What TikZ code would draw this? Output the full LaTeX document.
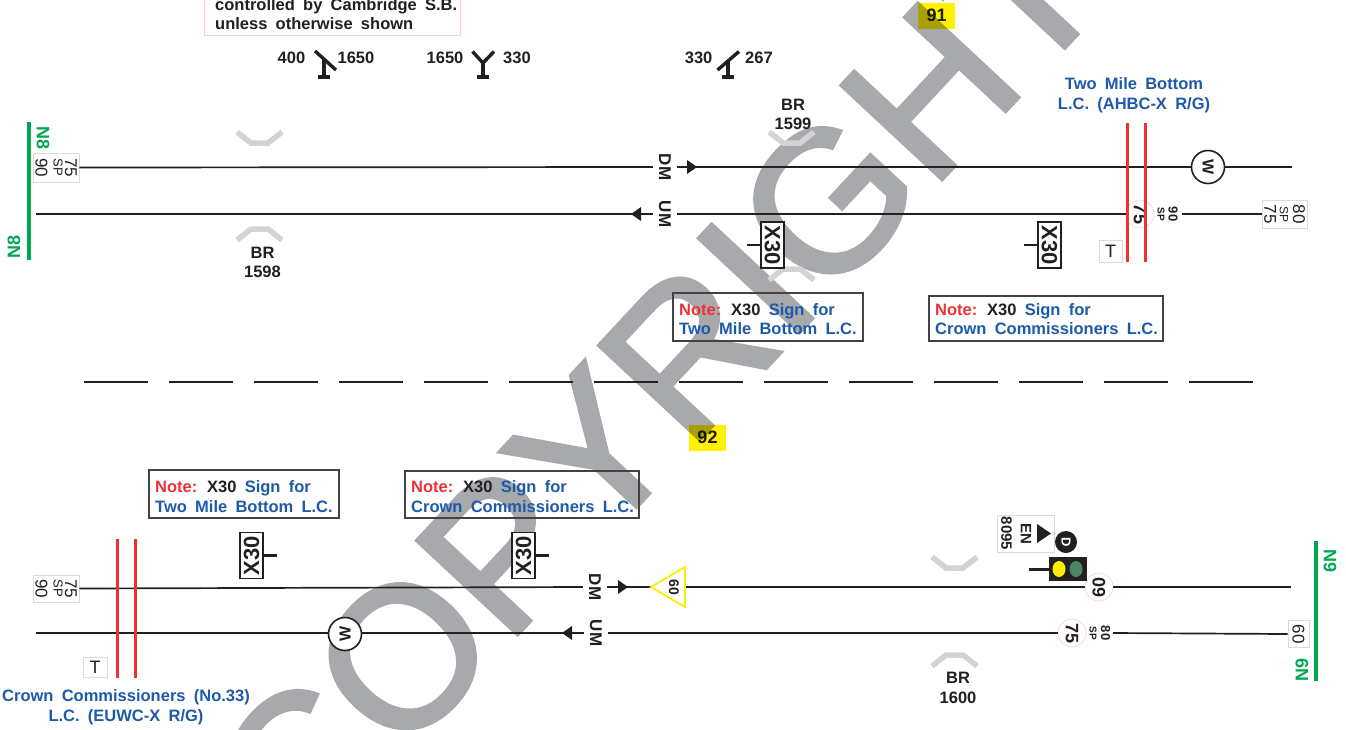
\documentclass[tikz,border=0pt]{standalone}
\usepackage{fontspec}
\setmainfont{Liberation Sans}[WordSpace=1.8]
\newfontfamily\wmfont{Liberation Sans}[FakeBold=2]
\usetikzlibrary{shapes.geometric}
\definecolor{ink}{RGB}{35,31,32}
\definecolor{lcblue}{RGB}{30,90,170}
\definecolor{lcred}{RGB}{237,50,55}
\definecolor{bdgreen}{RGB}{0,166,81}
\definecolor{hlyellow}{RGB}{255,242,0}
\definecolor{wmgray}{RGB}{167,169,172}
\definecolor{brgray}{RGB}{209,211,212}
\definecolor{boxgray}{RGB}{218,219,220}
\definecolor{boxpink}{RGB}{248,208,214}
\definecolor{sigyel}{RGB}{255,237,0}
\definecolor{siggrn}{RGB}{72,135,100}
\tikzset{
 txt/.style={inner sep=0pt, text=ink, font=\bfseries\fontsize{16.5}{19}\selectfont},
 fsz/.style={font=\bfseries\fontsize{#1}{#1}\selectfont},
 rsz/.style={font=\fontsize{#1}{#1}\selectfont},
 lctext/.style={txt, text=lcblue},
 track/.style={draw=ink, line width=1.7pt},
 sig/.style={draw=ink, line width=3.4pt},
 spdbox/.style={draw=boxgray, line width=0.9pt, fill=white, inner sep=0pt},
 notebox/.style={draw=ink!85, line width=1.3pt},
 chev/.style={draw=brgray, line width=5.5pt, line join=miter},
 redlc/.style={draw=lcred, line width=3pt},
 xbox/.style={draw=ink, line width=1.5pt, fill=white, inner sep=0pt, minimum width=23pt, minimum height=46pt, text=ink, font=\bfseries\fontsize{22}{22}\selectfont},
 dirlbl/.style={txt, fsz=17, inner xsep=0pt, inner ysep=6pt, rotate=-90},
 spdring/.style={circle, draw=boxpink, line width=0.6pt, fill=white, minimum size=28pt, inner sep=0pt, text=ink, font=\bfseries\fontsize{18}{18}\selectfont},
 wring/.style={circle, draw=ink, line width=1.6pt, fill=white, minimum size=33pt, inner sep=0pt, text=ink, font=\bfseries\fontsize{16}{16}\selectfont},
 bdr/.style={draw=bdgreen, line width=4pt},
 bdlbl/.style={txt, text=bdgreen, fsz=18},
 hlbox/.style={fill=hlyellow, minimum width=37pt, minimum height=26pt, inner sep=0pt, text=ink, font=\bfseries\fontsize{18}{18}\selectfont},
 arrowhead/.style={fill=ink},
 wmark/.style={color=wmgray, text=wmgray, font=\wmfont\fontsize{200}{200}\selectfont, rotate=47, inner sep=0pt}
}
\begin{document}
\begin{tikzpicture}[x=1pt,y=-1pt]
\useasboundingbox (0,0) rectangle (1346,729);
\fill[white] (0,0) rectangle (1346,729);

% ---------- watermark (underneath) ----------
\node[wmark] (wm) at (657,384) {\pgfsetstrokecolor{wmgray}COPYRIGHT};

% ---------- top info box ----------
\draw[draw=boxpink, line width=1pt] (204,-5) rectangle (460,35);
\node[txt, anchor=base west] (ctrl1) at (215,10) {controlled by Cambridge S.B.};
\node[txt, anchor=base west] (ctrl2) at (215,29) {unless otherwise shown};

% ---------- signals ----------
\node[txt, anchor=base] (s1a) at (291.5,63) {400};
\node[txt, anchor=base] (s1b) at (356,63) {1650};
\draw[sig] (315,51) -- (336,70); \draw[sig] (324,59) -- (324,77); \draw[sig] (318,77) -- (330,77);
\node[txt, anchor=base] (s2a) at (445,63) {1650};
\node[txt, anchor=base] (s2b) at (517,63) {330};
\draw[sig] (472.5,51.5) -- (483,63) -- (494,51.5); \draw[sig] (483,62) -- (483,77); \draw[sig] (477,77) -- (489,77);
\node[txt, anchor=base] (s3a) at (698.6,63) {330};
\node[txt, anchor=base] (s3b) at (759,63) {267};
\draw[sig] (717.5,70) -- (739,51.5); \draw[sig] (728,61) -- (728,77); \draw[sig] (722,77) -- (734,77);

\begin{scope}[blend mode=multiply]
\node[hlbox] (n91) at (936.5,15.5) {91};
\node[hlbox] (n92) at (707.5,437.5) {92};
\end{scope}

% ---------- N8 boundary ----------
\draw[bdr] (29,122) -- (29,260);
\node[bdlbl, rotate=-90] (n8a) at (43,138) {N8};
\node[bdlbl, rotate=90] (n8b) at (14,247) {N8};

% ---------- top speed box ----------
\node[spdbox, minimum width=46pt, minimum height=29pt] (tlbox) at (56,167.5) {};
\node[inner sep=0, text=ink, rsz=17, rotate=-90] (tlb1) at (71,167.5) {75};
\node[inner sep=0, text=ink, rsz=13, rotate=-90] (tlb2) at (58,167.5) {SP};
\node[inner sep=0, text=ink, rsz=17, rotate=-90] (tlb3) at (41.5,167.5) {90};

% ---------- top tracks ----------
\coordinate (tdm1) at (1292,167);
\coordinate (tum0) at (36,214);
\node[dirlbl] (tdmL) at (665,167) {DM};
\node[dirlbl] (tumL) at (665,214) {UM};
\node[wring] (tw) at (1208,167) {\rotatebox{-90}{W}};
\node[spdring] (t75) at (1140,214) {\rotatebox{-90}{75}};
\node[inner sep=0, text=ink, fsz=10, rotate=-90] (tsp) at (1161,214) {SP};
\node[inner sep=0, text=ink, fsz=13, rotate=-90] (t90) at (1173,214) {90};
\coordinate (tumR) at (1182,214);
\node[spdbox, minimum width=45pt, minimum height=28pt] (trbox) at (1284.5,214) {};
\node[inner sep=0, text=ink, rsz=17, rotate=-90] (trb1) at (1270,214) {75};
\node[inner sep=0, text=ink, rsz=12, rotate=-90] (trb2) at (1284,214) {SP};
\node[inner sep=0, text=ink, rsz=17, rotate=-90] (trb3) at (1299,214) {80};

\draw[track] (tlbox.east) -- (tdmL.south);
\draw[track] (tdmL.north) -- (tw.west);
\draw[track] (tw.east) -- (tdm1);
\draw[track] (tum0) -- (tumL.south);
\draw[track] (tumL.north) -- (t75.west);
\draw[track] (tumR) -- (trbox.west);
\fill[arrowhead] (687,160) -- (697,167) -- (687,174) -- cycle;
\fill[arrowhead] (631,214) -- (641,207) -- (641,221) -- cycle;

% bridges
\draw[chev] (237,132) -- (251,143) -- (268,143) -- (282,132);
\draw[chev] (237,240) -- (251,229) -- (268,229) -- (282,240);
\node[txt, anchor=base] (br98a) at (262.5,258) {BR};
\node[txt, anchor=base] (br98b) at (262.5,277) {1598};
\draw[chev] (769,132) -- (783,143) -- (800,143) -- (814,132);
\draw[chev] (769,280) -- (783,269) -- (800,269) -- (814,280);
\node[txt, anchor=base] (br99a) at (793,110.5) {BR};
\node[txt, anchor=base] (br99b) at (793,129.5) {1599};

% X30 signs top
\node[xbox] (tx1) at (772.5,245) {\rotatebox{-90}{X30}};
\draw[sig, line width=2.4pt] (tx1.west) -- +(-13,0);
\node[xbox] (tx2) at (1049.5,245) {\rotatebox{-90}{X30}};
\draw[sig, line width=2.4pt] (tx2.west) -- +(-13,0);

% Two Mile Bottom LC
\node[lctext, anchor=base] (tmb1) at (1134,89) {Two Mile Bottom};
\node[lctext, anchor=base] (tmb2) at (1134,109) {L.C. (AHBC-X R/G)};
\draw[redlc] (1127,123) -- (1127,262);
\draw[redlc] (1145,123) -- (1145,262);
\node[spdbox, minimum width=23pt, minimum height=22pt, text=ink, rsz=18] (tT) at (1110.5,251) {T};

% notes top
\draw[notebox] (673,293) rectangle (863,341);
\node[txt, anchor=base west] (nt1a) at (679,315) {\textcolor{lcred}{Note:} X30 \textcolor{lcblue}{Sign for}};
\node[lctext, anchor=base west] (nt1b) at (679,334) {Two Mile Bottom L.C.};
\draw[notebox] (929,296) rectangle (1163,341);
\node[txt, anchor=base west] (nt2a) at (935,315) {\textcolor{lcred}{Note:} X30 \textcolor{lcblue}{Sign for}};
\node[lctext, anchor=base west] (nt2b) at (935,334) {Crown Commissioners L.C.};

% ---------- divider ----------
\coordinate (dv0) at (84,382);
\coordinate (dv1) at (1253,382);
\draw[draw=ink, line width=2pt, dash pattern=on 64pt off 21pt] (dv0) -- (dv1);

% ---------- bottom notes ----------
\draw[notebox] (149,470) rectangle (339,518);
\node[txt, anchor=base west] (nb1a) at (155,492) {\textcolor{lcred}{Note:} X30 \textcolor{lcblue}{Sign for}};
\node[lctext, anchor=base west] (nb1b) at (155,512) {Two Mile Bottom L.C.};
\draw[notebox] (405,471) rectangle (639,518);
\node[txt, anchor=base west] (nb2a) at (411,492) {\textcolor{lcred}{Note:} X30 \textcolor{lcblue}{Sign for}};
\node[lctext, anchor=base west] (nb2b) at (411,512) {Crown Commissioners L.C.};

\node[xbox] (bx1) at (251.5,555.5) {\rotatebox{90}{X30}};
\draw[sig, line width=2.4pt] (bx1.east) -- +(13,0);
\node[xbox] (bx2) at (523.5,555.5) {\rotatebox{90}{X30}};
\draw[sig, line width=2.4pt] (bx2.east) -- +(13,0);

% ---------- bottom tracks ----------
\node[spdbox, minimum width=46pt, minimum height=27pt] (blbox) at (56,588.5) {};
\node[inner sep=0, text=ink, rsz=17, rotate=-90] (blb1) at (71,588.5) {75};
\node[inner sep=0, text=ink, rsz=13, rotate=-90] (blb2) at (58,588.5) {SP};
\node[inner sep=0, text=ink, rsz=17, rotate=-90] (blb3) at (41.5,588.5) {90};
\coordinate (bum0) at (36,633);
\coordinate (bdm1) at (1291,587);
\node[dirlbl] (bdmL) at (595,587) {DM};
\node[dirlbl] (bumL) at (596,633) {UM};
\node[wring] (bw) at (345,634) {\rotatebox{90}{W}};
\node[spdring] (b60) at (1099,587) {\rotatebox{90}{60}};
\node[spdring] (b75) at (1072,633) {\rotatebox{-90}{75}};
\node[inner sep=0, text=ink, fsz=10, rotate=-90] (bsp) at (1093,633) {SP};
\node[inner sep=0, text=ink, fsz=13, rotate=-90] (b80) at (1105.5,633) {80};
\coordinate (bumR) at (1113,633);
\node[spdbox, minimum width=21pt, minimum height=27pt, text=ink, rsz=17] (brbox) at (1298.5,634) {\rotatebox{-90}{60}};

\draw[track] (blbox.east) -- (bdmL.south);
\draw[track] (bdmL.north) -- (b60.west);
\draw[track] (b60.east) -- (bdm1);
\draw[track] (bum0) -- (bum0 -| bw.west);
\draw[track] (bw.east |- bum0) -- (bumL.south);
\draw[track] (bumL.north) -- (b75.west);
\draw[track] (bumR) -- (brbox.west);
\fill[arrowhead] (618,580) -- (628,587) -- (618,594) -- cycle;
\fill[arrowhead] (562,633) -- (572,626) -- (572,640) -- cycle;

% warning triangle 60
\filldraw[fill=white, draw=sigyel, line width=1.8pt] (651,587) -- (685,567) -- (685,607) -- cycle;
\node[inner sep=0, text=ink, fsz=14, rotate=-90] (tri60) at (674,587) {60};

% bridge 1600
\draw[chev] (932,557) -- (946,568) -- (963,568) -- (977,557);
\draw[chev] (932,666) -- (946,655) -- (963,655) -- (977,666);
\node[txt, anchor=base] (br00a) at (958,683) {BR};
\node[txt, anchor=base] (br00b) at (958,703) {1600};

% signal EN 8095
\node[spdbox, minimum width=57pt, minimum height=37pt] (enbox) at (1025.5,533.5) {};
\node[inner sep=0, text=ink, fsz=15, rotate=-90] (en1) at (1006.5,533.5) {8095};
\node[inner sep=0, text=ink, fsz=15, rotate=-90] (en2) at (1026,533.5) {EN};
\fill[ink] (1037,524) -- (1051,533.5) -- (1037,543) -- cycle;
\node[circle, fill=ink, minimum size=22pt, inner sep=0, text=white, fsz=13] (dc) at (1066,542) {\rotatebox{-90}{D}};
\node[fill=ink, minimum width=38pt, minimum height=24pt, inner sep=0] (sh) at (1068,569) {};
\fill[sigyel] (1059,569) ellipse (6.5pt and 8pt);
\fill[siggrn] (1076,569) ellipse (6.5pt and 8pt);
\coordinate (post) at (1029,569);
\draw[sig, line width=3pt] (post) -- (sh.west);

% Crown Commissioners LC
\draw[redlc] (117,539) -- (117,678);
\draw[redlc] (135,539) -- (135,678);
\node[spdbox, minimum width=24pt, minimum height=20pt, text=ink, rsz=18] (bT) at (95,667) {T};
\node[lctext, anchor=base] (cc1) at (126,701) {Crown Commissioners (No.33)};
\node[lctext, anchor=base] (cc2) at (126,721) {L.C. (EUWC-X R/G)};

% N9 boundary
\draw[bdr] (1316,541) -- (1316,681);
\node[bdlbl, rotate=-90] (n9a) at (1330,561) {N9};
\node[bdlbl, rotate=90] (n9b) at (1302,670) {N9};
\end{tikzpicture}
\end{document}
